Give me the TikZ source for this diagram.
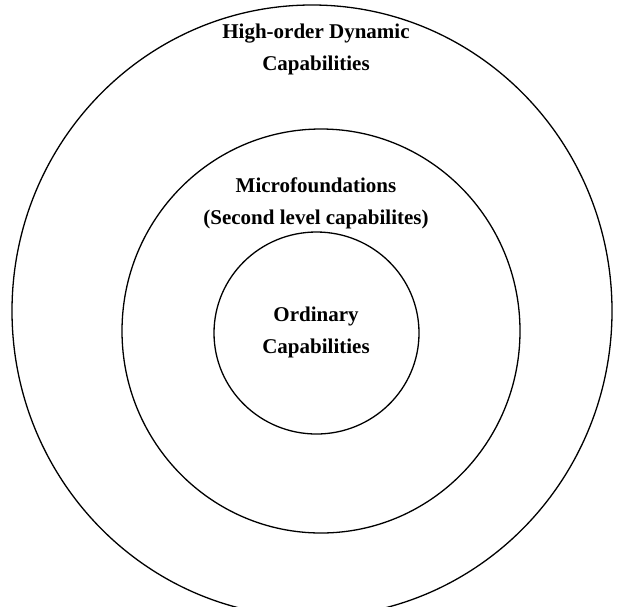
\documentclass[tikz,border=0pt]{standalone}
\usepackage{fontspec}
\setmainfont{Liberation Serif}
\usetikzlibrary{shapes.geometric}
\tikzset{
  ring/.style={ellipse, draw=black, line width=1.3pt, inner sep=0pt, outer sep=0pt},
  lbl/.style={align=center, inner sep=0pt, font=\fontsize{21}{32}\selectfont\bfseries}
}
\begin{document}
\begin{tikzpicture}[x=1pt,y=-1pt]
\useasboundingbox (0,0) rectangle (617,606);
\clip (0,0) rectangle (617,606);
\node[ring, minimum width=600pt, minimum height=612pt] (outer) at (312,311) {};
\node[ring, minimum width=398pt, minimum height=404pt] (middle) at (321,331) {};
\node[ring, minimum width=205pt, minimum height=202pt] (inner) at (316.5,333) {};
\node[lbl] (t1) at (316,49) {High-order Dynamic\\Capabilities};
\node[lbl] (t2) at (316,203) {Microfoundations\\(Second level capabilites)};
\node[lbl] (t3) at (316,332) {Ordinary\\Capabilities};
\end{tikzpicture}
\end{document}
